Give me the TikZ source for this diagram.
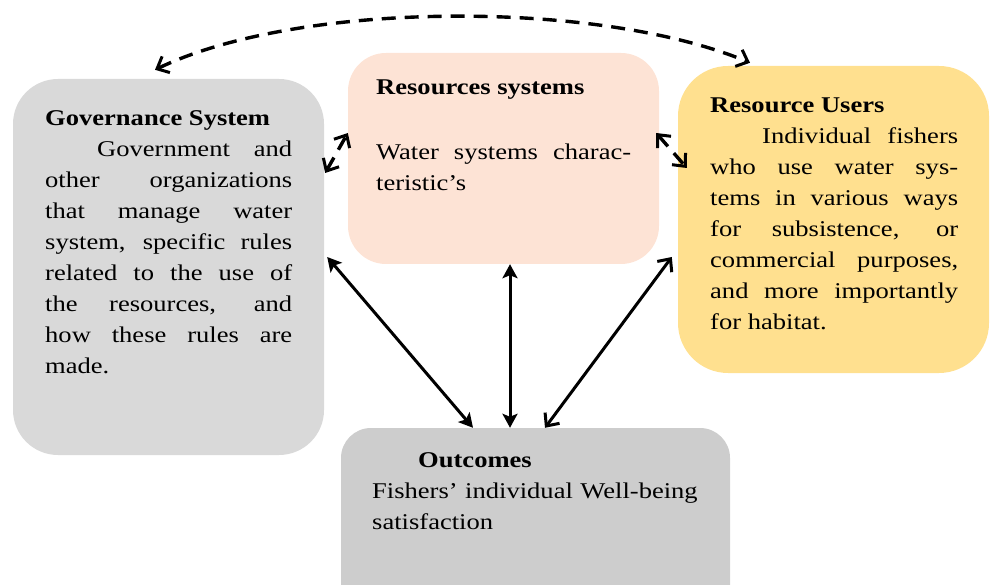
\documentclass[tikz,border=0pt]{standalone}
\usepackage{fontspec}
\setmainfont{Liberation Serif}[FakeStretch=1.18]
\usetikzlibrary{arrows.meta}

\definecolor{govgray}{RGB}{217,217,217}
\definecolor{outgray}{RGB}{205,205,205}
\definecolor{respeach}{RGB}{253,227,213}
\definecolor{useryellow}{RGB}{255,224,143}

\tikzset{
  box/.style={rectangle,draw=none,inner sep=0pt,rounded corners=#1},
  blurb/.style={anchor=base west,inner sep=0pt,align=justify,
    font=\fontsize{22.5}{31}\selectfont},
  solidlink/.style={line width=3pt},
  dashlink/.style={line width=3.4pt,dash pattern=on 14pt off 9pt},
  fulltip/.tip={Stealth[length=14pt,width=15pt,inset=3pt]},
  opentip/.tip={Straight Barb[length=10pt,width=18pt,line width=3pt]}
}

\begin{document}
\begin{tikzpicture}[x=1pt,y=1pt]
				\useasboundingbox (0,0) rectangle (995,584);
				
				% boxes
				\node[box=45pt,fill=govgray,minimum width=311pt,minimum height=376pt] (gov) at (168.5,317) {};
				\node[box=38pt,fill=respeach,minimum width=311pt,minimum height=211pt] (res) at (503.5,425.5) {};
				\node[box=50pt,fill=useryellow,minimum width=311pt,minimum height=307pt] (users) at (833.5,364.5) {};
				\node[box=30pt,fill=outgray,minimum width=389pt,minimum height=200pt] (out) at (535.5,56) {};
				
				% texts
				\node[blurb,text width=247pt] (govtext) at (45,458) {\textbf{Governance System}\\
					\hspace*{52pt}Government and\linebreak other organizations\linebreak that manage water\linebreak system, specific rules\linebreak related to the use of\linebreak the resources, and\linebreak how these rules are\linebreak made.};
				\node[blurb,text width=255pt] (restext) at (376,489) {\textbf{Resources systems}\\[34pt]
					Water systems charac-\linebreak teristic’s};
				\node[blurb,text width=248pt] (userstext) at (710,471.3) {\textbf{Resource Users}\\
					\hspace*{52pt}Individual fishers\linebreak who use water sys-\linebreak tems in various ways\linebreak for subsistence, or\linebreak commercial purposes,\linebreak and more importantly\linebreak for habitat.};
				\node[blurb,align=left,text width=345pt] (outtext) at (372,116.3) {\hspace*{46pt}\textbf{Outcomes}\\
					Fishers’ individual Well-being\\ satisfaction};
				
				% dashed links
				\draw[dashlink,opentip-opentip] ([xshift=-13.5pt,yshift=9pt]gov.north) .. controls (300,584) and (600,584) .. ([xshift=-83.5pt,yshift=3pt]users.north);
				\draw[dashlink,opentip-opentip] ([xshift=1pt,yshift=94pt]gov.east) -- ([yshift=25.5pt]res.west);
				\draw[dashlink,opentip-opentip] ([xshift=-3pt,yshift=25.5pt]res.east) -- ([xshift=9pt,yshift=51.5pt]users.west);
				
				% solid links to outcomes
				\draw[solidlink,fulltip-fulltip] ([xshift=3pt,yshift=10pt]gov.east) -- ([xshift=-62.5pt]out.north);
				\draw[solidlink,fulltip-fulltip] ([xshift=6.5pt]res.south) -- ([xshift=-25.5pt]out.north);
				\draw[solidlink,opentip-opentip] ([xshift=-6pt,yshift=-37.5pt]users.west) -- ([xshift=9.5pt]out.north);
			\end{tikzpicture}
\end{document}
